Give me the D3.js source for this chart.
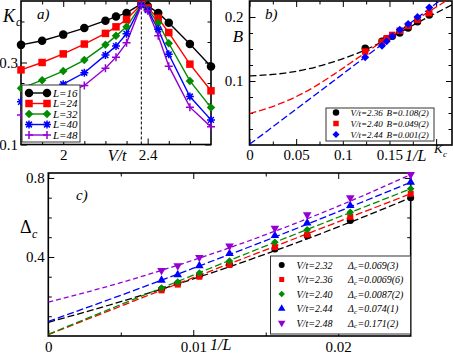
<!DOCTYPE html>
<html><head><meta charset="utf-8">
<script src="https://cdn.jsdelivr.net/npm/d3@7"></script>
<style>
body{margin:0;background:#fff;}
svg{display:block;}
text{font-family:"Liberation Serif","Times New Roman",serif;}
</style></head><body>
<svg id="chart" width="453" height="354"></svg>
<script>
// ---------- Panel a data ----------
const vtA = [1.8,1.9,2.0,2.1,2.2,2.25,2.3,2.37,2.4,2.45,2.5,2.6,2.7];
const kcL16 = [0.343,0.353,0.368,0.384,0.402,0.412,0.421,0.443,0.438,0.421,0.397,0.345,0.290];
const kcL24 = [0.282,0.300,0.321,0.345,0.371,0.387,0.405,0.442,0.433,0.408,0.373,0.296,0.231];
const kcL32 = [0.237,0.257,0.279,0.306,0.343,0.365,0.387,0.441,0.430,0.397,0.347,0.255,0.190];
const kcL40 = [0.204,0.226,0.247,0.275,0.318,0.340,0.370,0.440,0.428,0.381,0.320,0.217,0.160];
const kcL48 = [0.172,0.199,0.221,0.244,0.286,0.313,0.348,0.439,0.426,0.365,0.291,0.191,0.143];
const labelsA = ["L=16","L=24","L=32","L=40","L=48"];
const vcLine = 2.37;

// ---------- Panel b data ----------
const xB = [0.124,0.142,0.147,0.153,0.161,0.170,0.180,0.1926];
const bVt236 = [0.151,0.162,0.166,0.170,0.175,0.183,0.1925,0.203];
const bVt240 = [0.146,0.161,0.1666,0.172,0.1786,0.186,0.1957,0.206];
const bVt244 = [0.137,0.155,0.162,0.170,0.180,0.189,0.200,0.215];
const fitXB = [0,0.03,0.06,0.09,0.12,0.15,0.18,0.217];
const fitB236 = [0.108,0.111,0.118,0.130,0.146,0.167,0.191,0.219];
const fitB240 = [0.049,0.063,0.083,0.110,0.140,0.169,0.197,0.231];
const fitB244 = [0.001,0.034,0.067,0.100,0.133,0.166,0.199,0.240];
const legVtB = ["V/t=2.36","V/t=2.40","V/t=2.44"];
const legValB = ["B=0.108(2)","B=0.049(2)","B=0.001(2)"];

// ---------- Panel c data ----------
const invL = [0.00781,0.00893,0.01042,0.0125,0.01563,0.01786,0.02083,0.025];
const d232 = [0.237,0.266,0.305,0.362,0.440,0.508,0.584,0.700];
const d236 = [0.231,0.260,0.300,0.360,0.450,0.513,0.603,0.720];
const d240 = [0.243,0.273,0.319,0.380,0.474,0.538,0.626,0.745];
const d244 = [0.282,0.310,0.356,0.417,0.508,0.572,0.660,0.778];
const d248 = [0.332,0.356,0.398,0.455,0.545,0.614,0.700,0.817];
const fitXC = [0,0.005,0.01,0.015,0.02,0.025];
const fitC232 = [0.069,0.174,0.289,0.415,0.552,0.700];
const fitC236 = [0.0069,0.151,0.295,0.436,0.578,0.720];
const fitC240 = [0.0087,0.159,0.308,0.456,0.601,0.745];
const fitC244 = [0.074,0.206,0.343,0.483,0.629,0.778];
const fitC248 = [0.171,0.270,0.384,0.513,0.657,0.817];
const legVtC = ["V/t=2.32","V/t=2.36","V/t=2.40","V/t=2.44","V/t=2.48"];
const legValC = ["=0.069(3)","=0.0069(6)","=0.0087(2)","=0.074(1)","=0.171(2)"];

const COL = {k:"#000000", r:"#ff0000", g:"#008b00", b:"#0000ff", v:"#9400d3"};
const FONT = '"Liberation Serif","Times New Roman",serif';
const svg = d3.select("#chart");
const fmt = d3.format("~g");

function axes(x, y, o) {
  const g = svg.append("g");
  const [xl, xr] = x.range();
  const [yb, yt] = y.range();
  const M = 6, m = 3.5;
  g.append("g").attr("transform", `translate(0,${yb})`)
    .call(d3.axisBottom(x).tickValues(o.xMaj).tickSize(-M).tickPadding(o.padX)
      .tickFormat(d => o.xLab.includes(d) ? fmt(d) : ""));
  g.append("g").attr("transform", `translate(0,${yb})`)
    .call(d3.axisBottom(x).tickValues(o.xMin).tickSize(-m).tickFormat(""));
  g.append("g").attr("transform", `translate(0,${yt})`)
    .call(d3.axisTop(x).tickValues(o.xMaj).tickSize(-M).tickFormat(""));
  g.append("g").attr("transform", `translate(0,${yt})`)
    .call(d3.axisTop(x).tickValues(o.xMin).tickSize(-m).tickFormat(""));
  const ly = g.append("g").attr("transform", `translate(${xl},0)`)
    .call(d3.axisLeft(y).tickValues(o.yMaj).tickSize(-M).tickPadding(o.padY)
      .tickFormat(d => o.yLab.includes(d) ? fmt(d) : ""));
  g.append("g").attr("transform", `translate(${xl},0)`)
    .call(d3.axisLeft(y).tickValues(o.yMin).tickSize(-m).tickFormat(""));
  g.append("g").attr("transform", `translate(${xr},0)`)
    .call(d3.axisRight(y).tickValues(o.yMaj).tickSize(-M).tickFormat(""));
  g.append("g").attr("transform", `translate(${xr},0)`)
    .call(d3.axisRight(y).tickValues(o.yMin).tickSize(-m).tickFormat(""));
  g.selectAll(".domain").remove();
  g.selectAll("g").attr("font-family", FONT).attr("font-size", o.fsX || 15);
  ly.attr("font-size", o.fsY || 15);
  g.selectAll("text").attr("fill", "#000");
  g.selectAll("line").attr("stroke", "#000").attr("stroke-width", 1);
  g.append("rect").attr("x", xl).attr("y", yt).attr("width", xr - xl).attr("height", yb - yt)
    .attr("fill", "none").attr("stroke", "#000").attr("stroke-width", 1.6);
}

function mark(g, type, cx, cy, s, color) {
  const h = s / 2;
  let p, filled = true;
  switch (type) {
    case "circle": p = d3.symbol(d3.symbolCircle, Math.PI * h * h)(); break;
    case "square": p = d3.symbol(d3.symbolSquare, s * s)(); break;
    case "diamond": p = `M0,${-h}L${h},0L0,${h}L${-h},0Z`; break;
    case "up": p = d3.symbol(d3.symbolTriangle, s * s * 0.5)(); break;
    case "down": p = d3.symbol(d3.symbolTriangle, s * s * 0.5)(); break;
    case "star": { const k = h * 0.72;
      p = `M${-h},0L${h},0M0,${-h}L0,${h}M${-k},${-k}L${k},${k}M${-k},${k}L${k},${-k}`; filled = false; break; }
    case "plus": p = `M${-h},0L${h},0M0,${-h}L0,${h}`; filled = false; break;
  }
  const el = g.append("path").attr("d", p)
    .attr("transform", `translate(${cx},${cy})` + (type === "down" ? " rotate(180)" : ""));
  if (filled) el.attr("fill", color).attr("stroke", "none");
  else el.attr("fill", "none").attr("stroke", color).attr("stroke-width", 1.5);
}

function txt(x, y, s, size, italic, anchor) {
  return svg.append("text").attr("x", x).attr("y", y).text(s)
    .attr("font-size", size).attr("font-style", italic ? "italic" : "normal")
    .attr("text-anchor", anchor || "start").attr("fill", "#000");
}

// ================= Panel a =================
const xa = d3.scaleLinear().domain([1.8, 2.7]).range([21, 211]);
const ya = d3.scaleLinear().domain([0.1, 0.45]).range([144.5, 1]);
axes(xa, ya, {
  xMaj: [2, 2.4], xMin: [1.9, 2.1, 2.2, 2.3, 2.5, 2.6], xLab: [2, 2.4], padX: 5,
  yMaj: [0.1, 0.3], yMin: [0.15, 0.2, 0.25, 0.35, 0.4], yLab: [0.1, 0.3], padY: 3,
  fsX: 15, fsY: 12.5
});
const gA = svg.append("g");
gA.append("line").attr("x1", xa(vcLine)).attr("x2", xa(vcLine)).attr("y1", ya.range()[0]).attr("y2", ya.range()[1])
  .attr("stroke", "#000").attr("stroke-width", 1).attr("stroke-dasharray", "3,2");
const seriesA = [
  {v: kcL16, c: COL.k, t: "circle", s: 8.5},
  {v: kcL24, c: COL.r, t: "square", s: 7.5},
  {v: kcL32, c: COL.g, t: "diamond", s: 8.5},
  {v: kcL40, c: COL.b, t: "star", s: 8},
  {v: kcL48, c: COL.v, t: "plus", s: 8}
];
const lineA = d3.line().x(d => xa(d[0])).y(d => ya(d[1]));
seriesA.forEach(S => {
  const pts = vtA.map((v, i) => [v, S.v[i]]);
  gA.append("path").attr("d", lineA(pts)).attr("fill", "none").attr("stroke", S.c).attr("stroke-width", 1.4);
});
seriesA.forEach(S => {
  vtA.forEach((v, i) => mark(gA, S.t, xa(v), ya(S.v[i]), S.s, S.c));
});
// legend a
svg.append("rect").attr("x", 22).attr("y", 85).attr("width", 58).attr("height", 57)
  .attr("fill", "#fff").attr("stroke", "#333").attr("stroke-width", 1);
seriesA.forEach((S, i) => {
  const yy = 93 + i * 10.5;
  svg.append("line").attr("x1", 29).attr("x2", 47).attr("y1", yy).attr("y2", yy)
    .attr("stroke", S.c).attr("stroke-width", 1.4);
  mark(svg, S.t, 29, yy, S.s, S.c);
  mark(svg, S.t, 47, yy, S.s, S.c);
  txt(53, yy, labelsA[i], 11, true).attr("dy", "0.35em");
});
txt(3, 22, "K", 18, true);
txt(16, 26, "c", 12, true);
txt(37, 19, "a)", 15, true);
txt(117, 161, "V/t", 16, true, "middle");

// ================= Panel b =================
const xb = d3.scaleLinear().domain([0, 0.217]).range([249.5, 452]);
const yb = d3.scaleLinear().domain([0, 0.225]).range([145, 1]);
axes(xb, yb, {
  xMaj: [0, 0.05, 0.1, 0.15, 0.2], xMin: [0.025, 0.075, 0.125, 0.175], xLab: [0, 0.05, 0.1, 0.15], padX: 4.5,
  yMaj: [0.1, 0.2], yMin: [0.025, 0.05, 0.075, 0.125, 0.15, 0.175], yLab: [0.1, 0.2], padY: 6
});
svg.append("clipPath").attr("id", "clipB").append("rect")
  .attr("x", 249.5).attr("y", 1).attr("width", 452 - 249.5).attr("height", 144);
const gB = svg.append("g").attr("clip-path", "url(#clipB)");
const lineB = d3.line().x(d => xb(d[0])).y(d => yb(d[1])).curve(d3.curveMonotoneX);
const seriesB = [
  {v: bVt236, f: fitB236, c: COL.k, t: "circle", s: 7.5},
  {v: bVt240, f: fitB240, c: COL.r, t: "square", s: 6.5},
  {v: bVt244, f: fitB244, c: COL.b, t: "diamond", s: 8}
];
seriesB.forEach(S => {
  gB.append("path").attr("d", lineB(fitXB.map((x, i) => [x, S.f[i]])))
    .attr("fill", "none").attr("stroke", S.c).attr("stroke-width", 1.3).attr("stroke-dasharray", "7,3");
});
seriesB.forEach(S => {
  xB.forEach((x, i) => mark(svg, S.t, xb(x), yb(S.v[i]), S.s, S.c));
});
svg.append("rect").attr("x", 326).attr("y", 108).attr("width", 108).attr("height", 33)
  .attr("fill", "#fff").attr("stroke", "#333").attr("stroke-width", 1);
seriesB.forEach((S, i) => {
  const yy = 112.5 + i * 11;
  mark(svg, S.t, 336, yy, S.s - 1, S.c);
  txt(350.5, yy, legVtB[i], 9, true).attr("dy", "0.35em");
  txt(386.5, yy, legValB[i], 9, true).attr("dy", "0.35em");
});
txt(238, 42, "B", 17, true, "middle");
txt(265, 19, "b)", 15, true);
txt(405, 161, "1/L", 16, true);
txt(434, 153, "K", 13, true);
txt(443, 157, "c", 9, true);

// ================= Panel c =================
const xc = d3.scaleLinear().domain([0, 0.025]).range([48.3, 410.7]);
const yc = d3.scaleLinear().domain([0, 0.825]).range([336, 173]);
axes(xc, yc, {
  xMaj: [0, 0.01, 0.02], xMin: [0.005, 0.015], xLab: [0, 0.01, 0.02], padX: 5.5,
  yMaj: [0.4, 0.8], yMin: [0.1, 0.2, 0.3, 0.5, 0.6, 0.7], yLab: [0.4, 0.8], padY: 3.5
});
svg.append("clipPath").attr("id", "clipC").append("rect")
  .attr("x", 48.3).attr("y", 173).attr("width", 410.7 - 48.3).attr("height", 163);
const gC = svg.append("g").attr("clip-path", "url(#clipC)");
const lineC = d3.line().x(d => xc(d[0])).y(d => yc(d[1])).curve(d3.curveMonotoneX);
const seriesC = [
  {v: d232, f: fitC232, c: COL.k, t: "circle", s: 7},
  {v: d236, f: fitC236, c: COL.r, t: "square", s: 6},
  {v: d240, f: fitC240, c: COL.g, t: "diamond", s: 7.5},
  {v: d244, f: fitC244, c: COL.b, t: "up", s: 8},
  {v: d248, f: fitC248, c: COL.v, t: "down", s: 8}
];
seriesC.forEach((S, k) => {
  gC.append("path").attr("d", lineC(fitXC.map((x, i) => [x, S.f[i]])))
    .attr("fill", "none").attr("stroke", S.c).attr("stroke-width", 1.3)
    .attr("stroke-dasharray", k === 4 ? "5,3" : "7,3");
});
seriesC.forEach(S => {
  invL.forEach((x, i) => mark(svg, S.t, xc(x), yc(S.v[i]), S.s, S.c));
});
svg.append("rect").attr("x", 270.5).attr("y", 256).attr("width", 140).attr("height", 78)
  .attr("fill", "#fff").attr("stroke", "#333").attr("stroke-width", 1);
seriesC.forEach((S, i) => {
  const yy = 265 + i * 14.5;
  mark(svg, S.t, 281.7, yy, S.s - 1, S.c);
  txt(296.5, yy, legVtC[i], 10, true).attr("dy", "0.35em");
  txt(348, yy, "\u0394", 10, true).attr("dy", "0.35em");
  txt(354, yy + 3, "c", 7, true).attr("dy", "0.35em");
  txt(357.5, yy, legValC[i], 10, true).attr("dy", "0.35em");
});
txt(20, 233, "\u0394", 18, false);
txt(32, 238, "c", 12, true);
txt(76, 200, "c)", 15, true);
txt(210, 350, "1/L", 16, true);
</script>
</body></html>
